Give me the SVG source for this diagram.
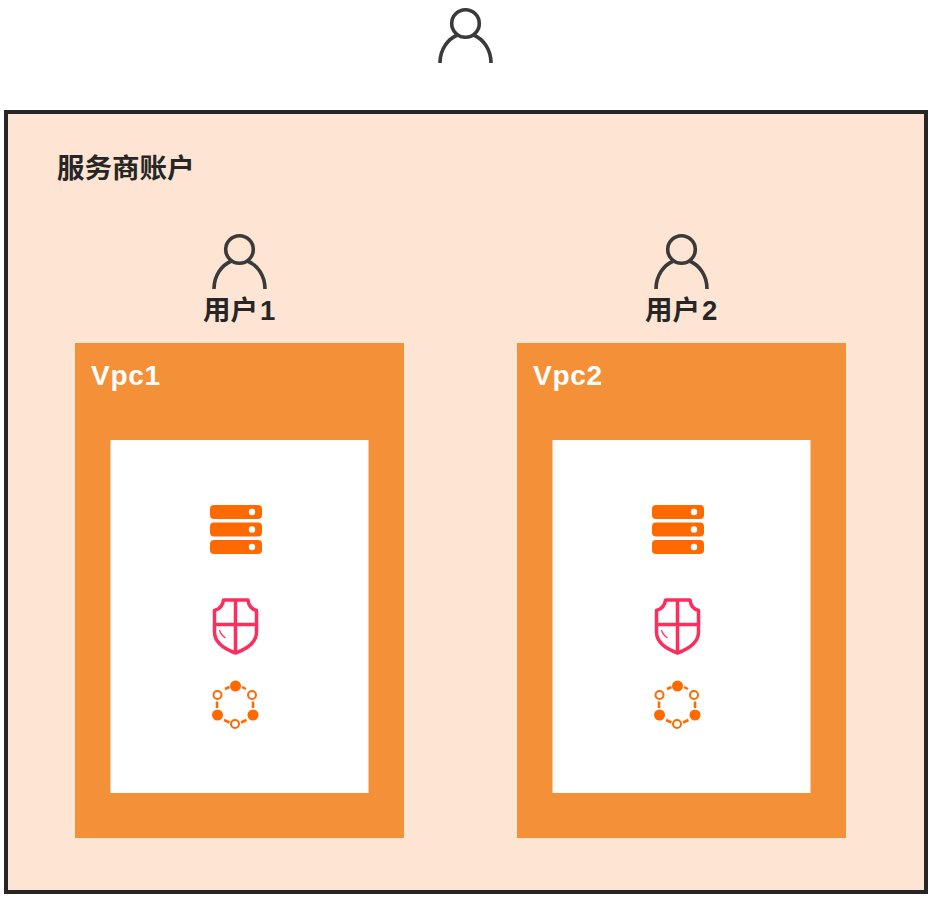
<svg xmlns="http://www.w3.org/2000/svg" xmlns:xlink="http://www.w3.org/1999/xlink" width="936" height="899" viewBox="0 0 936 899">
<style>
.t{font-family:"Liberation Sans","Noto Sans CJK SC",sans-serif;font-weight:700}
.dark{fill:#262626;font-size:27.500px}
.vpc{fill:#fff;font-size:28px;letter-spacing:0.700px}
.person{fill:none;stroke:#3a3a3a;stroke-width:3.600}
.o{fill:#ff6a00}
.ring{fill:#fff;stroke:#ff6a00;stroke-width:2}
.dash{fill:none;stroke:#ff6a00;stroke-width:2.500}
.shield{fill:none;stroke:#fa2f5e;stroke-width:3.500;stroke-linejoin:round}
</style>
<defs>
<g id="person">
<circle cx="27.500" cy="15.500" r="13.800" class="person"/>
<path d="M2 55C2 41 10 31 19.500 27M53 55C53 41 45 31 35.500 27" class="person"/>
</g>
<g id="server">
<rect x="0" y="0" width="52" height="14" rx="4" class="o"/><circle cx="42" cy="7" r="3.200" fill="#fff"/>
<rect x="0" y="17.500" width="52" height="14" rx="4" class="o"/><circle cx="42" cy="24.500" r="3.200" fill="#fff"/>
<rect x="0" y="35" width="52" height="14" rx="4" class="o"/><circle cx="42" cy="42" r="3.200" fill="#fff"/>
</g>
<g id="shieldIcon">
<path d="M21 0H9C8.500 5 5 9 0 10.500V32C0 42 10 49 21 53C32 49 42 42 42 32V10.500C37 9 34 5 33.500 0Z" class="shield"/>
<path d="M21 0V53M0 24.500H42" class="shield"/>
<path d="M5 30C6 34 8 36 11 38" fill="none" stroke="#fa2f5e" stroke-width="1.200"/>
</g>
<g id="network">
<path d="M15 8L19.500 6M32 6L36 8M43 20.500V27M36.500 39L31 41.500M19.500 41.500L14 39M7 27V20.500" class="dash"/>
<circle cx="25.500" cy="5" r="5.500" class="o"/>
<circle cx="42" cy="14" r="4" class="ring"/>
<circle cx="43" cy="34" r="5.500" class="o"/>
<circle cx="25" cy="43" r="4" class="ring"/>
<circle cx="7.500" cy="34" r="5.500" class="o"/>
<circle cx="7.500" cy="14" r="4" class="ring"/>
</g>
</defs>
<g id="connectors"></g>
<g id="top-user"><use xlink:href="#person" href="#person" x="438" y="8"/></g>
<g id="provider-account">
<rect x="6" y="112" width="920" height="780" fill="#fee5d3" stroke="#262626" stroke-width="4"/>
<text x="57" y="178" class="t dark">服务商账户</text>
</g>
<g id="user1">
<use xlink:href="#person" href="#person" x="212" y="234"/>
<text x="203" y="320" class="t dark">用户<tspan dx="2">1</tspan></text>
</g>
<g id="user2">
<use xlink:href="#person" href="#person" x="654" y="234"/>
<text x="645" y="320" class="t dark">用户<tspan dx="2">2</tspan></text>
</g>
<g id="vpc1">
<rect x="75" y="343" width="329" height="495" fill="#f49037"/>
<text x="91" y="385" class="t vpc">Vpc1</text>
<rect x="110.500" y="440" width="258" height="353" fill="#fff"/>
<use xlink:href="#server" href="#server" x="210" y="505"/>
<use xlink:href="#shieldIcon" href="#shieldIcon" x="214.500" y="600"/>
<use xlink:href="#network" href="#network" x="210" y="681"/>
</g>
<g id="vpc2">
<rect x="517" y="343" width="329" height="495" fill="#f49037"/>
<text x="533" y="385" class="t vpc">Vpc2</text>
<rect x="552.500" y="440" width="258" height="353" fill="#fff"/>
<use xlink:href="#server" href="#server" x="652" y="505"/>
<use xlink:href="#shieldIcon" href="#shieldIcon" x="656.500" y="600"/>
<use xlink:href="#network" href="#network" x="652" y="681"/>
</g>
</svg>
